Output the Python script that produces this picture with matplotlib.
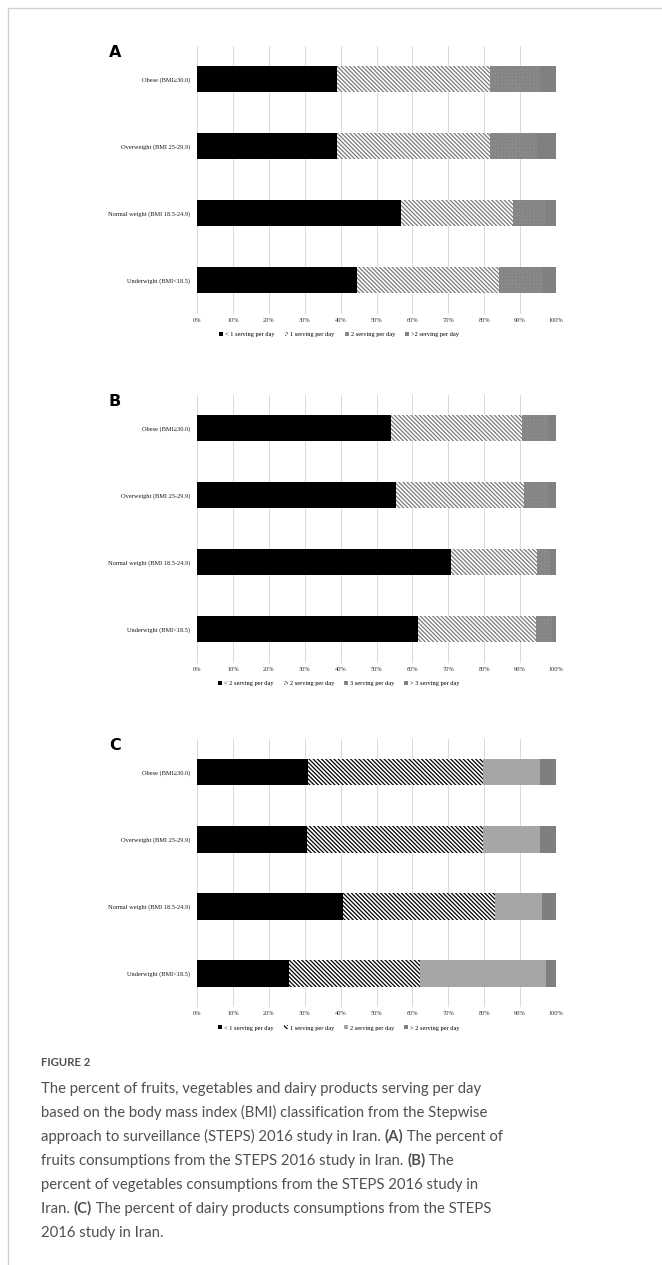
import matplotlib
matplotlib.use("Agg")
import matplotlib.pyplot as plt
from matplotlib.patches import Patch
from matplotlib.lines import Line2D
import numpy as np

# categories, top to bottom
categories = ["Obese (BMI\u226530.0)", "Overweight (BMI 25-29.9)",
              "Normal weight (BMI 18.5-24.9)", "Underwight (BMI<18.5)"]
ticks = [0, 10, 20, 30, 40, 50, 60, 70, 80, 90, 100]
tick_labels = ["%d%%" % t for t in ticks]

# A - fruits (percent of each group)
fruit_lt1 = [39.0, 39.0, 56.8, 44.7]
fruit_1 = [42.6, 42.7, 31.2, 39.4]
fruit_2 = [13.9, 13.1, 9.0, 12.2]
fruit_gt2 = [4.5, 5.2, 3.0, 3.7]
fruit_legend = ["< 1 serving per day", "1 serving per day", "2 serving per day", ">2 serving per day"]

# B - vegetables
veg_lt2 = [54.0, 55.3, 70.7, 61.5]
veg_2 = [36.4, 35.8, 24.1, 33.0]
veg_3 = [7.5, 6.8, 3.6, 4.3]
veg_gt3 = [2.1, 2.1, 1.6, 1.2]
veg_legend = ["< 2 serving per day", "2 serving per day", "3 serving per day", "> 3 serving per day"]

# C - dairy
dairy_lt1 = [30.8, 30.7, 40.7, 25.6]
dairy_1 = [49.0, 48.9, 42.3, 36.6]
dairy_2 = [15.8, 16.0, 13.1, 34.9]
dairy_gt2 = [4.4, 4.4, 3.9, 2.9]
dairy_legend = ["< 1 serving per day", "1 serving per day", "2 serving per day", "> 2 serving per day"]

W, H = 662, 1265
plt.rcParams['hatch.linewidth'] = 0.9
fig = plt.figure(figsize=(W / 100, H / 100), dpi=100)
fig.patch.set_facecolor('white')

SERIF = "Liberation Serif"

# styles for the 4 segments: (facecolor, hatch, hatch colour)
style_ab = [("black", None, "black"),
            ("white", "\\" * 8, "#7a7a7a"),
            ("#a8a8a8", "x" * 12, "#858585"),
            ("#808080", None, "#808080")]
style_c = [("black", None, "black"),
           ("white", "\\" * 8, "black"),
           ("#a6a6a6", None, "#a6a6a6"),
           ("#7f7f7f", None, "#7f7f7f")]


def px_axes(left, top, right, bottom):
    return fig.add_axes([left / W, 1 - bottom / H, (right - left) / W, (bottom - top) / H])


def panel(top, bottom, letter, series, labels, styles):
    ax = px_axes(197, top, 556, bottom)
    y = np.arange(len(categories))
    left = np.zeros(len(categories))
    handles = []
    for vals, lab, (fc, hatch, hc) in zip(series, labels, styles):
        ax.barh(y, vals, left=left, height=0.4, color=fc, hatch=hatch,
                edgecolor=hc, linewidth=0, zorder=3)
        left = left + np.array(vals)
        handles.append(Patch(facecolor=fc, hatch=hatch, edgecolor=hc, linewidth=0))
    ax.set_xlim(0, 100)
    ax.set_ylim(len(categories) - 0.5, -0.5)
    ax.set_xticks(ticks)
    ax.set_xticklabels(tick_labels, fontsize=4.6, family=SERIF, color="#333333")
    ax.set_yticks(y)
    ax.set_yticklabels(categories, fontsize=4.6, family=SERIF, color="#1a1a1a")
    ax.tick_params(length=0, pad=3)
    ax.tick_params(axis='y', pad=5)
    for s in ax.spines.values():
        s.set_visible(False)
    ax.grid(axis='x', color="#d9d9d9", linewidth=0.7, zorder=0)
    ax.set_axisbelow(True)
    fig.text(115 / W, 1 - (top + 7) / H, letter, fontsize=11.5, fontweight='bold',
             family="DejaVu Sans", ha='center', va='center')
    fig.legend(handles, labels, loc='center', ncol=4,
               bbox_to_anchor=(339 / W, 1 - (bottom + 21) / H), frameon=False,
               prop={'family': SERIF, 'size': 4.6}, handlelength=0.6, handleheight=0.6,
               handletextpad=0.3, columnspacing=1.6, borderpad=0)


panel(45.5, 313.5, "A", [fruit_lt1, fruit_1, fruit_2, fruit_gt2], fruit_legend, style_ab)
panel(394.5, 662.5, "B", [veg_lt2, veg_2, veg_3, veg_gt3], veg_legend, style_ab)
panel(738.5, 1007, "C", [dairy_lt1, dairy_1, dairy_2, dairy_gt2], dairy_legend, style_c)

# frame around the figure
fig.add_artist(Line2D([8 / W, 1], [1 - 8 / H, 1 - 8 / H], color="#cfcfcf", linewidth=0.9))
fig.add_artist(Line2D([8 / W, 8 / W], [0, 1 - 8 / H], color="#cfcfcf", linewidth=0.9))

# caption
cap_color = "#505050"
cap_font = "Lato"
fig.text(41 / W, 1 - 1062.5 / H, "FIGURE 2", fontsize=8.2, fontweight='bold',
         family=cap_font, color=cap_color, va='center')

caption = [
    [("The percent of fruits, vegetables and dairy products serving per day", False)],
    [("based on the body mass index (BMI) classification from the Stepwise", False)],
    [("approach to surveillance (STEPS) 2016 study in Iran. ", False), ("(A)", True),
     (" The percent of", False)],
    [("fruits consumptions from the STEPS 2016 study in Iran. ", False), ("(B)", True),
     (" The", False)],
    [("percent of vegetables consumptions from the STEPS 2016 study in", False)],
    [("Iran. ", False), ("(C)", True),
     (" The percent of dairy products consumptions from the STEPS", False)],
    [("2016 study in Iran.", False)],
]
for i, line in enumerate(caption):
    ybase = 1 - (1093 + i * 24) / H
    last = None
    for txt, bold in line:
        kw = dict(fontsize=10.75, family=cap_font, color=cap_color,
                  fontweight='bold' if bold else 'normal')
        if last is None:
            last = fig.text(41 / W, ybase, txt, va='baseline', ha='left', **kw)
        else:
            last = fig.add_artist(matplotlib.text.Annotation(
                txt, xy=(1, 0), xycoords=last, va='bottom', ha='left', **kw))

fig.savefig("out.png", dpi=100, facecolor='white')
